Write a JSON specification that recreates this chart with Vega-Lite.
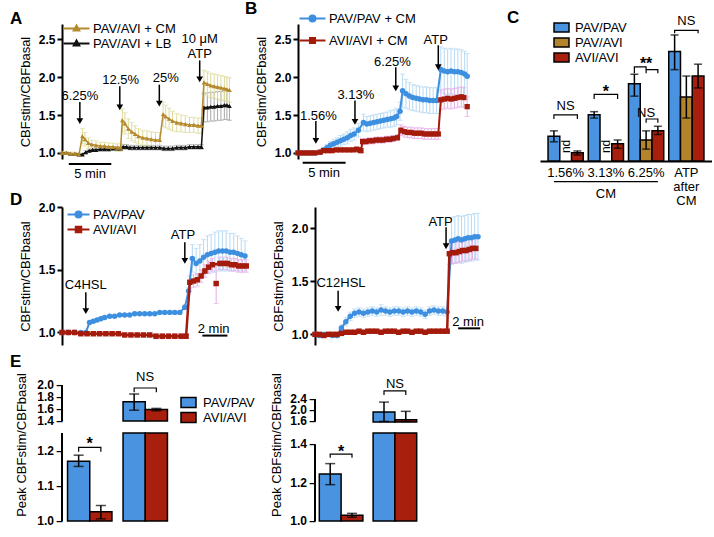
{
"$schema":"https://vega.github.io/schema/vega-lite/v6.json",
"padding":{"left":10,"top":0,"right":0,"bottom":0},
"config":{"view":{"stroke":null},"font":"Liberation Sans",
"axis":{"domainColor":"black","domainWidth":2,"tickColor":"black","tickWidth":2,"tickSize":5,"labelFontWeight":"bold","labelFontSize":12,"labelColor":"black","titleFontWeight":"normal","titleFontSize":13,"titleColor":"black","grid":false,"labelPadding":2,"titlePadding":6},
"legend":{"labelFontSize":13,"labelColor":"black"},
"point":{"opacity":1,"filled":true},
"title":{"fontSize":17,"fontWeight":"bold","anchor":"start","frame":"group","offset":0,"baseline":"bottom","color":"black"}},
"datasets":{
"Ag":[{"t":0,"m":1.0,"e":0.02},{"t":0.5,"m":1.0,"e":0.02},{"t":1,"m":0.99,"e":0.02},{"t":1.5,"m":0.99,"e":0.02},{"t":2,"m":0.98,"e":0.02},{"t":2.4,"m":1.22,"e":0.1},{"t":2.7,"m":1.18,"e":0.09},{"t":3.1,"m":1.13,"e":0.07},{"t":3.5,"m":1.11,"e":0.06},{"t":4,"m":1.1,"e":0.06},{"t":4.5,"m":1.09,"e":0.05},{"t":5,"m":1.09,"e":0.05},{"t":5.5,"m":1.08,"e":0.05},{"t":6,"m":1.08,"e":0.05},{"t":6.5,"m":1.07,"e":0.05},{"t":6.9,"m":1.07,"e":0.05},{"t":7.1,"m":1.43,"e":0.15},{"t":7.4,"m":1.39,"e":0.14},{"t":7.8,"m":1.32,"e":0.13},{"t":8.2,"m":1.28,"e":0.12},{"t":8.6,"m":1.25,"e":0.11},{"t":9,"m":1.22,"e":0.1},{"t":9.5,"m":1.2,"e":0.1},{"t":10,"m":1.19,"e":0.1},{"t":10.5,"m":1.18,"e":0.1},{"t":11,"m":1.17,"e":0.1},{"t":11.5,"m":1.17,"e":0.1},{"t":11.9,"m":1.51,"e":0.16},{"t":12.2,"m":1.48,"e":0.15},{"t":12.6,"m":1.45,"e":0.14},{"t":13,"m":1.42,"e":0.13},{"t":13.5,"m":1.4,"e":0.12},{"t":14,"m":1.39,"e":0.11},{"t":14.5,"m":1.38,"e":0.11},{"t":15,"m":1.37,"e":0.1},{"t":15.5,"m":1.37,"e":0.1},{"t":16,"m":1.36,"e":0.1},{"t":16.4,"m":1.36,"e":0.1},{"t":16.7,"m":1.93,"e":0.16},{"t":17.1,"m":1.91,"e":0.16},{"t":17.5,"m":1.89,"e":0.16},{"t":17.9,"m":1.88,"e":0.16},{"t":18.3,"m":1.87,"e":0.16},{"t":18.7,"m":1.86,"e":0.16},{"t":19.1,"m":1.85,"e":0.16},{"t":19.4,"m":1.84,"e":0.16},{"t":19.7,"m":1.83,"e":0.16}],
"Ak":[{"t":0,"m":1.0,"e":0.01},{"t":0.5,"m":1.0,"e":0.01},{"t":1,"m":0.99,"e":0.01},{"t":1.5,"m":0.99,"e":0.01},{"t":2,"m":0.98,"e":0.01},{"t":2.4,"m":0.98,"e":0.01},{"t":2.8,"m":1.01,"e":0.02},{"t":3.2,"m":1.03,"e":0.02},{"t":3.6,"m":1.04,"e":0.02},{"t":4,"m":1.04,"e":0.02},{"t":4.5,"m":1.05,"e":0.02},{"t":5,"m":1.05,"e":0.02},{"t":5.5,"m":1.05,"e":0.02},{"t":6,"m":1.06,"e":0.02},{"t":6.5,"m":1.06,"e":0.02},{"t":6.9,"m":1.06,"e":0.02},{"t":7.2,"m":1.08,"e":0.03},{"t":7.6,"m":1.08,"e":0.03},{"t":8,"m":1.07,"e":0.03},{"t":8.5,"m":1.07,"e":0.03},{"t":9,"m":1.07,"e":0.03},{"t":9.5,"m":1.07,"e":0.03},{"t":10,"m":1.07,"e":0.03},{"t":10.5,"m":1.07,"e":0.03},{"t":11,"m":1.07,"e":0.03},{"t":11.5,"m":1.07,"e":0.03},{"t":12,"m":1.06,"e":0.03},{"t":12.5,"m":1.06,"e":0.03},{"t":13,"m":1.06,"e":0.03},{"t":13.5,"m":1.07,"e":0.03},{"t":14,"m":1.07,"e":0.03},{"t":14.5,"m":1.07,"e":0.03},{"t":15,"m":1.08,"e":0.03},{"t":15.5,"m":1.08,"e":0.03},{"t":16,"m":1.08,"e":0.03},{"t":16.4,"m":1.08,"e":0.03},{"t":16.7,"m":1.6,"e":0.19},{"t":17.1,"m":1.6,"e":0.19},{"t":17.5,"m":1.61,"e":0.19},{"t":17.9,"m":1.61,"e":0.19},{"t":18.3,"m":1.62,"e":0.19},{"t":18.7,"m":1.62,"e":0.19},{"t":19.1,"m":1.63,"e":0.19},{"t":19.4,"m":1.63,"e":0.19},{"t":19.7,"m":1.62,"e":0.19}],
"Aarr":[{"t":2.1,"m":1.67,"m2":1.42},{"t":6.8,"m":1.88,"m2":1.6},{"t":11.45,"m":1.9,"m2":1.65},{"t":16.2,"m":2.22,"m2":1.97}],
"Ahd":[{"t":2.1,"m":1.42},{"t":6.8,"m":1.6},{"t":11.45,"m":1.65},{"t":16.2,"m":1.97}],
"Abar":[{"t":0.8,"t2":5.8,"m":0.855}],
"Alab":[{"t":2.1,"m":1.75,"label":"6.25%"},{"t":6.9,"m":1.96,"label":"12.5%"},{"t":12.2,"m":1.99,"label":"25%"},{"t":16.2,"m":2.5,"label":"10 μM"},{"t":16.2,"m":2.31,"label":"ATP"},{"t":3.3,"m":0.72,"label":"5 min"}],
"Bp":[{"t":0,"m":1.0,"e":0.01},{"t":0.5,"m":1.0,"e":0.01},{"t":1,"m":1.0,"e":0.01},{"t":1.5,"m":1.0,"e":0.01},{"t":2,"m":1.0,"e":0.01},{"t":2.6,"m":1.01,"e":0.02},{"t":3,"m":1.04,"e":0.03},{"t":3.4,"m":1.07,"e":0.04},{"t":3.8,"m":1.1,"e":0.05},{"t":4.2,"m":1.12,"e":0.06},{"t":4.6,"m":1.14,"e":0.06},{"t":5,"m":1.16,"e":0.07},{"t":5.4,"m":1.18,"e":0.07},{"t":5.8,"m":1.2,"e":0.08},{"t":6.2,"m":1.23,"e":0.08},{"t":6.6,"m":1.25,"e":0.08},{"t":7.1,"m":1.3,"e":0.09},{"t":7.7,"m":1.4,"e":0.11},{"t":8.1,"m":1.38,"e":0.1},{"t":8.5,"m":1.39,"e":0.1},{"t":8.9,"m":1.4,"e":0.1},{"t":9.3,"m":1.41,"e":0.1},{"t":9.7,"m":1.42,"e":0.1},{"t":10.1,"m":1.43,"e":0.1},{"t":10.5,"m":1.44,"e":0.1},{"t":10.9,"m":1.45,"e":0.11},{"t":11.3,"m":1.46,"e":0.11},{"t":11.6,"m":1.48,"e":0.11},{"t":12,"m":1.55,"e":0.12},{"t":12.3,"m":1.82,"e":0.22},{"t":12.7,"m":1.78,"e":0.19},{"t":13.1,"m":1.75,"e":0.18},{"t":13.5,"m":1.73,"e":0.17},{"t":13.9,"m":1.72,"e":0.17},{"t":14.3,"m":1.71,"e":0.17},{"t":14.7,"m":1.7,"e":0.17},{"t":15.1,"m":1.7,"e":0.17},{"t":15.5,"m":1.69,"e":0.17},{"t":15.9,"m":1.69,"e":0.17},{"t":16.3,"m":1.69,"e":0.17},{"t":16.8,"m":2.1,"e":0.3},{"t":17.2,"m":2.08,"e":0.3},{"t":17.6,"m":2.07,"e":0.3},{"t":18,"m":2.08,"e":0.3},{"t":18.4,"m":2.07,"e":0.3},{"t":18.8,"m":2.07,"e":0.3},{"t":19.2,"m":2.06,"e":0.3},{"t":19.6,"m":2.04,"e":0.3},{"t":19.9,"m":2.01,"e":0.3}],
"Ba":[{"t":0,"m":1.0,"e":0.01},{"t":0.5,"m":1.0,"e":0.01},{"t":1,"m":1.0,"e":0.01},{"t":1.5,"m":1.0,"e":0.01},{"t":2,"m":1.0,"e":0.01},{"t":2.6,"m":1.01,"e":0.01},{"t":3,"m":1.03,"e":0.01},{"t":3.5,"m":1.03,"e":0.01},{"t":4,"m":1.03,"e":0.01},{"t":4.5,"m":1.04,"e":0.01},{"t":5,"m":1.04,"e":0.01},{"t":5.5,"m":1.04,"e":0.01},{"t":6,"m":1.04,"e":0.01},{"t":6.5,"m":1.04,"e":0.01},{"t":6.9,"m":1.05,"e":0.02},{"t":7.2,"m":1.04,"e":0.03},{"t":7.4,"m":1.03,"e":0.03},{"t":7.6,"m":1.15,"e":0.04},{"t":8,"m":1.15,"e":0.04},{"t":8.4,"m":1.16,"e":0.04},{"t":8.8,"m":1.16,"e":0.04},{"t":9.2,"m":1.17,"e":0.04},{"t":9.6,"m":1.17,"e":0.04},{"t":10,"m":1.17,"e":0.04},{"t":10.4,"m":1.18,"e":0.04},{"t":10.8,"m":1.18,"e":0.04},{"t":11.2,"m":1.19,"e":0.04},{"t":11.7,"m":1.2,"e":0.04},{"t":12.1,"m":1.3,"e":0.07},{"t":12.5,"m":1.28,"e":0.07},{"t":12.9,"m":1.27,"e":0.07},{"t":13.3,"m":1.27,"e":0.07},{"t":13.7,"m":1.26,"e":0.07},{"t":14.1,"m":1.26,"e":0.07},{"t":14.5,"m":1.26,"e":0.07},{"t":14.9,"m":1.25,"e":0.07},{"t":15.3,"m":1.25,"e":0.07},{"t":15.7,"m":1.25,"e":0.07},{"t":16.1,"m":1.25,"e":0.07},{"t":16.5,"m":1.25,"e":0.07},{"t":16.8,"m":1.7,"e":0.13},{"t":17.2,"m":1.71,"e":0.13},{"t":17.6,"m":1.72,"e":0.13},{"t":18,"m":1.71,"e":0.13},{"t":18.4,"m":1.72,"e":0.13},{"t":18.8,"m":1.73,"e":0.13},{"t":19.2,"m":1.74,"e":0.13},{"t":19.5,"m":1.73,"e":0.13}],
"Bx":[{"t":19.9,"m":1.61,"e":0.13}],
"Barr":[{"t":2.1,"m":1.42,"m2":1.16},{"t":6.7,"m":1.69,"m2":1.41},{"t":11.5,"m":2.13,"m2":1.85},{"t":16.5,"m":2.42,"m2":2.13}],
"Bhd":[{"t":2.1,"m":1.16},{"t":6.7,"m":1.41},{"t":11.5,"m":1.85},{"t":16.5,"m":2.13}],
"Bbar":[{"t":0.55,"t2":5.6,"m":0.87}],
"Blab":[{"t":2.4,"m":1.49,"label":"1.56%"},{"t":6.8,"m":1.76,"label":"3.13%"},{"t":11.1,"m":2.2,"label":"6.25%"},{"t":16.2,"m":2.49,"label":"ATP"},{"t":3.06,"m":0.73,"label":"5 min"}],
"C":[{"g":"1.56%","k":"PAV/PAV","m":1.27,"lo":1.21,"hi":1.33},{"g":"1.56%","k":"AVI/AVI","m":1.09,"lo":1.065,"hi":1.11},{"g":"3.13%","k":"PAV/PAV","m":1.506,"lo":1.47,"hi":1.54},{"g":"3.13%","k":"AVI/AVI","m":1.19,"lo":1.14,"hi":1.23},{"g":"6.25%","k":"PAV/PAV","m":1.845,"lo":1.71,"hi":1.95},{"g":"6.25%","k":"PAV/AVI","m":1.23,"lo":1.13,"hi":1.33},{"g":"6.25%","k":"AVI/AVI","m":1.33,"lo":1.29,"hi":1.38},{"g":"ATP","k":"PAV/PAV","m":2.2,"lo":2.0,"hi":2.38},{"g":"ATP","k":"PAV/AVI","m":1.7,"lo":1.47,"hi":1.93},{"g":"ATP","k":"AVI/AVI","m":1.93,"lo":1.8,"hi":2.06}],
"Cbr":[{"g":"1.56%","k":"PAV/PAV","m":1.46,"b":1,"o":1},{"g":"1.56%","k":"PAV/PAV","m":1.506,"b":1,"o":2},{"g":"1.56%","k":"AVI/AVI","m":1.506,"b":1,"o":3},{"g":"1.56%","k":"AVI/AVI","m":1.46,"b":1,"o":4},
{"g":"3.13%","k":"PAV/PAV","m":1.68,"b":2,"o":1},{"g":"3.13%","k":"PAV/PAV","m":1.73,"b":2,"o":2},{"g":"3.13%","k":"AVI/AVI","m":1.73,"b":2,"o":3},{"g":"3.13%","k":"AVI/AVI","m":1.68,"b":2,"o":4},
{"g":"6.25%","k":"PAV/PAV","m":1.96,"b":3,"o":1},{"g":"6.25%","k":"PAV/PAV","m":2.03,"b":3,"o":2},{"g":"6.25%","k":"PAV/AVI","m":2.03,"b":3,"o":3},{"g":"6.25%","k":"PAV/AVI","m":2.0,"b":3,"o":4},
{"g":"6.25%","k":"PAV/AVI","m":1.96,"b":4,"o":1},{"g":"6.25%","k":"PAV/AVI","m":2.0,"b":4,"o":2},{"g":"6.25%","k":"AVI/AVI","m":2.0,"b":4,"o":3},{"g":"6.25%","k":"AVI/AVI","m":1.96,"b":4,"o":4},
{"g":"6.25%","k":"PAV/AVI","m":1.42,"b":5,"o":1},{"g":"6.25%","k":"PAV/AVI","m":1.46,"b":5,"o":2},{"g":"6.25%","k":"AVI/AVI","m":1.46,"b":5,"o":3},{"g":"6.25%","k":"AVI/AVI","m":1.42,"b":5,"o":4},
{"g":"ATP","k":"PAV/PAV","m":2.4,"b":6,"o":1},{"g":"ATP","k":"PAV/PAV","m":2.43,"b":6,"o":2},{"g":"ATP","k":"AVI/AVI","m":2.43,"b":6,"o":3},{"g":"ATP","k":"AVI/AVI","m":2.4,"b":6,"o":4},
{"g":"1.56%","k":"PAV/PAV","m":0.774,"b":7,"o":1},{"g":"6.25%","k":"AVI/AVI","m":0.774,"b":7,"o":2}],
"Clab":[{"g":"1.56%","k":"PAV/AVI","m":1.6,"label":"NS"},{"g":"6.25%","k":"PAV/AVI","m":1.53,"label":"NS"},{"g":"ATP","k":"PAV/AVI","m":2.53,"label":"NS"},{"g":"3.13%","k":"PAV/AVI","m":0.643,"label":"CM"}],
"Cstar":[{"g":"3.13%","k":"PAV/AVI","m":1.76,"label":"*"},{"g":"6.25%","k":"PAV/AVI","m":2.06,"label":"**"}],
"Cnd":[{"g":"1.56%","k":"PAV/AVI","m":1.16,"label":"nd"},{"g":"3.13%","k":"PAV/AVI","m":1.16,"label":"nd"}],
"D1p":[{"t":0,"m":1.0,"e":0.01},{"t":0.5,"m":1.0,"e":0.01},{"t":1,"m":1.0,"e":0.01},{"t":1.5,"m":1.0,"e":0.01},{"t":1.9,"m":1.0,"e":0.01},{"t":2.2,"m":1.08,"e":0.01},{"t":2.5,"m":1.09,"e":0.01},{"t":2.8,"m":1.1,"e":0.01},{"t":3.1,"m":1.11,"e":0.01},{"t":3.4,"m":1.12,"e":0.01},{"t":3.8,"m":1.13,"e":0.01},{"t":4.2,"m":1.13,"e":0.01},{"t":4.6,"m":1.14,"e":0.01},{"t":5,"m":1.14,"e":0.01},{"t":5.4,"m":1.14,"e":0.01},{"t":5.8,"m":1.15,"e":0.01},{"t":6.2,"m":1.15,"e":0.01},{"t":6.6,"m":1.15,"e":0.01},{"t":7,"m":1.15,"e":0.01},{"t":7.4,"m":1.15,"e":0.01},{"t":7.8,"m":1.16,"e":0.01},{"t":8.2,"m":1.16,"e":0.01},{"t":8.6,"m":1.16,"e":0.01},{"t":9,"m":1.16,"e":0.01},{"t":9.4,"m":1.16,"e":0.01},{"t":9.8,"m":1.2,"e":0.02},{"t":10.1,"m":1.33,"e":0.03},{"t":10.4,"m":1.59,"e":0.11},{"t":10.7,"m":1.55,"e":0.12},{"t":11,"m":1.57,"e":0.13},{"t":11.3,"m":1.6,"e":0.14},{"t":11.6,"m":1.62,"e":0.15},{"t":11.9,"m":1.63,"e":0.15},{"t":12.2,"m":1.64,"e":0.16},{"t":12.5,"m":1.65,"e":0.16},{"t":12.8,"m":1.65,"e":0.16},{"t":13.1,"m":1.65,"e":0.16},{"t":13.4,"m":1.64,"e":0.15},{"t":13.7,"m":1.64,"e":0.15},{"t":14,"m":1.63,"e":0.14},{"t":14.3,"m":1.62,"e":0.13},{"t":14.6,"m":1.61,"e":0.12}],
"D1a":[{"t":0,"m":1.0,"e":0.01},{"t":0.5,"m":1.0,"e":0.01},{"t":1,"m":1.0,"e":0.01},{"t":1.5,"m":0.99,"e":0.01},{"t":2,"m":0.99,"e":0.01},{"t":2.5,"m":0.99,"e":0.01},{"t":3,"m":0.99,"e":0.01},{"t":3.5,"m":0.99,"e":0.01},{"t":4,"m":0.99,"e":0.01},{"t":4.5,"m":0.99,"e":0.01},{"t":5,"m":0.98,"e":0.01},{"t":5.5,"m":0.98,"e":0.01},{"t":6,"m":0.98,"e":0.01},{"t":6.5,"m":0.98,"e":0.01},{"t":7,"m":0.98,"e":0.01},{"t":7.5,"m":0.97,"e":0.02},{"t":8,"m":0.97,"e":0.02},{"t":8.5,"m":0.97,"e":0.02},{"t":9,"m":0.97,"e":0.02},{"t":9.5,"m":0.97,"e":0.02},{"t":9.9,"m":0.97,"e":0.02},{"t":10.2,"m":1.4,"e":0.05},{"t":10.5,"m":1.41,"e":0.05},{"t":10.8,"m":1.42,"e":0.05},{"t":11.1,"m":1.45,"e":0.05},{"t":11.4,"m":1.49,"e":0.05},{"t":11.7,"m":1.52,"e":0.05},{"t":12,"m":1.54,"e":0.05},{"t":12.6,"m":1.55,"e":0.05},{"t":12.9,"m":1.55,"e":0.05},{"t":13.2,"m":1.55,"e":0.05},{"t":13.5,"m":1.54,"e":0.05},{"t":13.8,"m":1.54,"e":0.05},{"t":14.1,"m":1.53,"e":0.05},{"t":14.4,"m":1.53,"e":0.05},{"t":14.7,"m":1.53,"e":0.05}],
"D1x":[{"t":12.3,"m":1.39,"e":0.16}],
"D1arr":[{"t":1.9,"m":1.32,"m2":1.17},{"t":9.8,"m":1.72,"m2":1.57}],
"D1hd":[{"t":1.9,"m":1.17},{"t":9.8,"m":1.57}],
"D1bar":[{"t":11.2,"t2":13.2,"m":0.975}],
"D1lab":[{"t":1.9,"m":1.38,"label":"C4HSL"},{"t":9.65,"m":1.78,"label":"ATP"},{"t":12.1,"m":1.03,"label":"2 min"}],
"D2p":[{"t":0,"m":1.0,"e":0.02},{"t":0.4,"m":0.99,"e":0.02},{"t":0.8,"m":1.0,"e":0.02},{"t":1.2,"m":1.0,"e":0.02},{"t":1.6,"m":0.99,"e":0.02},{"t":2,"m":0.99,"e":0.02},{"t":2.4,"m":1.06,"e":0.03},{"t":2.8,"m":1.12,"e":0.04},{"t":3.2,"m":1.17,"e":0.04},{"t":3.6,"m":1.2,"e":0.04},{"t":4,"m":1.21,"e":0.04},{"t":4.4,"m":1.2,"e":0.04},{"t":4.8,"m":1.21,"e":0.04},{"t":5.2,"m":1.22,"e":0.04},{"t":5.6,"m":1.21,"e":0.04},{"t":6,"m":1.23,"e":0.05},{"t":6.4,"m":1.22,"e":0.04},{"t":6.8,"m":1.21,"e":0.04},{"t":7.2,"m":1.22,"e":0.04},{"t":7.6,"m":1.22,"e":0.04},{"t":8,"m":1.21,"e":0.04},{"t":8.4,"m":1.22,"e":0.04},{"t":8.8,"m":1.21,"e":0.04},{"t":9.2,"m":1.22,"e":0.04},{"t":9.6,"m":1.21,"e":0.04},{"t":10,"m":1.19,"e":0.04},{"t":10.4,"m":1.22,"e":0.04},{"t":10.8,"m":1.23,"e":0.04},{"t":11.2,"m":1.22,"e":0.04},{"t":11.6,"m":1.22,"e":0.04},{"t":12,"m":1.21,"e":0.04},{"t":12.4,"m":1.88,"e":0.22},{"t":12.7,"m":1.89,"e":0.22},{"t":13,"m":1.9,"e":0.22},{"t":13.3,"m":1.89,"e":0.22},{"t":13.6,"m":1.9,"e":0.22},{"t":13.9,"m":1.91,"e":0.22},{"t":14.2,"m":1.91,"e":0.22},{"t":14.5,"m":1.92,"e":0.22},{"t":14.8,"m":1.92,"e":0.22}],
"D2a":[{"t":0,"m":1.0,"e":0.01},{"t":0.4,"m":1.0,"e":0.01},{"t":0.8,"m":0.99,"e":0.01},{"t":1.2,"m":1.0,"e":0.01},{"t":1.6,"m":1.0,"e":0.01},{"t":2,"m":1.0,"e":0.01},{"t":2.4,"m":1.01,"e":0.01},{"t":2.8,"m":1.02,"e":0.01},{"t":3.2,"m":1.02,"e":0.01},{"t":3.6,"m":1.02,"e":0.01},{"t":4,"m":1.03,"e":0.01},{"t":4.4,"m":1.02,"e":0.01},{"t":4.8,"m":1.03,"e":0.01},{"t":5.2,"m":1.03,"e":0.01},{"t":5.6,"m":1.03,"e":0.01},{"t":6,"m":1.02,"e":0.01},{"t":6.4,"m":1.03,"e":0.01},{"t":6.8,"m":1.03,"e":0.01},{"t":7.2,"m":1.03,"e":0.01},{"t":7.6,"m":1.02,"e":0.01},{"t":8,"m":1.03,"e":0.01},{"t":8.4,"m":1.03,"e":0.01},{"t":8.8,"m":1.02,"e":0.01},{"t":9.2,"m":1.03,"e":0.01},{"t":9.6,"m":1.03,"e":0.01},{"t":10,"m":1.02,"e":0.01},{"t":10.4,"m":1.03,"e":0.01},{"t":10.8,"m":1.03,"e":0.01},{"t":11.2,"m":1.03,"e":0.01},{"t":11.6,"m":1.03,"e":0.01},{"t":12,"m":1.03,"e":0.01},{"t":12.2,"m":1.76,"e":0.1},{"t":12.5,"m":1.77,"e":0.1},{"t":12.8,"m":1.77,"e":0.1},{"t":13.1,"m":1.78,"e":0.1},{"t":13.4,"m":1.79,"e":0.1},{"t":13.7,"m":1.79,"e":0.1},{"t":14,"m":1.8,"e":0.1},{"t":14.3,"m":1.81,"e":0.1},{"t":14.6,"m":1.81,"e":0.1}],
"D2arr":[{"t":2.1,"m":1.41,"m2":1.24},{"t":11.9,"m":2.01,"m2":1.83}],
"D2hd":[{"t":2.1,"m":1.24},{"t":11.9,"m":1.83}],
"D2bar":[{"t":13.0,"t2":15.0,"m":1.057}],
"D2lab":[{"t":2.36,"m":1.48,"label":"C12HSL"},{"t":11.4,"m":2.06,"label":"ATP"},{"t":13.9,"m":1.12,"label":"2 min"}],
"E1":[{"g":"C4HSL","k":"PAV/PAV","m":1.17,"lo":1.155,"hi":1.187},{"g":"C4HSL","k":"AVI/AVI","m":1.026,"lo":1.006,"hi":1.044},{"g":"ATP","k":"PAV/PAV","m":1.72,"lo":1.58,"hi":1.85},{"g":"ATP","k":"AVI/AVI","m":1.59,"lo":1.57,"hi":1.61}],
"E1h":[{"g":"C4HSL","k":"PAV/PAV","m":1.17,"lo":1.155,"hi":1.187},{"g":"C4HSL","k":"AVI/AVI","m":1.026,"lo":1.006,"hi":1.044}],
"E1a":[{"g":"ATP","k":"PAV/PAV","m":1.72,"lo":1.58,"hi":1.85},{"g":"ATP","k":"AVI/AVI","m":1.59,"lo":1.57,"hi":1.61}],
"E1bu":[{"g":"ATP","k":"PAV/PAV","m":1.88,"b":1,"o":1},{"g":"ATP","k":"PAV/PAV","m":1.95,"b":1,"o":2},{"g":"ATP","k":"AVI/AVI","m":1.95,"b":1,"o":3},{"g":"ATP","k":"AVI/AVI","m":1.88,"b":1,"o":4}],
"E1bl":[{"g":"C4HSL","k":"PAV/PAV","m":1.197,"b":1,"o":1},{"g":"C4HSL","k":"PAV/PAV","m":1.209,"b":1,"o":2},{"g":"C4HSL","k":"AVI/AVI","m":1.209,"b":1,"o":3},{"g":"C4HSL","k":"AVI/AVI","m":1.197,"b":1,"o":4}],
"E1tu":[{"g":"ATP","k":"PAV/PAV","m":2.13,"label":"NS"}],
"E1tl":[{"g":"C4HSL","k":"PAV/PAV","m":1.219,"label":"*"}],
"E1uax":[{"g":"C4HSL","m":1.4,"label":"1.4"},{"g":"C4HSL","m":1.6,"label":"1.6"},{"g":"C4HSL","m":1.8,"label":"1.8"},{"g":"C4HSL","m":2.0,"label":"2.0"}],
"E1uln":[{"g":"C4HSL","m":1.4,"m2":2.0}],
"E1lax":[{"g":"C4HSL","m":1.0,"label":"1.0"},{"g":"C4HSL","m":1.1,"label":"1.1"},{"g":"C4HSL","m":1.2,"label":"1.2"}],
"E1lln":[{"g":"C4HSL","m":1.0,"m2":1.25}],
"E1ttl":[{"g":"C4HSL","m":1.216,"label":"Peak CBFstim/CBFbasal"}],
"E2":[{"g":"C12HSL","k":"PAV/PAV","m":1.246,"lo":1.19,"hi":1.3},{"g":"C12HSL","k":"AVI/AVI","m":1.03,"lo":1.02,"hi":1.04},{"g":"ATP","k":"PAV/PAV","m":1.94,"lo":1.6,"hi":2.29},{"g":"ATP","k":"AVI/AVI","m":1.66,"lo":1.6,"hi":1.96}],
"E2h":[{"g":"C12HSL","k":"PAV/PAV","m":1.246,"lo":1.19,"hi":1.3},{"g":"C12HSL","k":"AVI/AVI","m":1.03,"lo":1.02,"hi":1.04}],
"E2a":[{"g":"ATP","k":"PAV/PAV","m":1.94,"lo":1.6,"hi":2.29},{"g":"ATP","k":"AVI/AVI","m":1.66,"lo":1.6,"hi":1.96}],
"E2bu":[{"g":"ATP","k":"PAV/PAV","m":2.54,"b":1,"o":1},{"g":"ATP","k":"PAV/PAV","m":2.69,"b":1,"o":2},{"g":"ATP","k":"AVI/AVI","m":2.69,"b":1,"o":3},{"g":"ATP","k":"AVI/AVI","m":2.54,"b":1,"o":4}],
"E2bl":[{"g":"C12HSL","k":"PAV/PAV","m":1.33,"b":1,"o":1},{"g":"C12HSL","k":"PAV/PAV","m":1.35,"b":1,"o":2},{"g":"C12HSL","k":"AVI/AVI","m":1.35,"b":1,"o":3},{"g":"C12HSL","k":"AVI/AVI","m":1.33,"b":1,"o":4}],
"E2tu":[{"g":"ATP","k":"PAV/PAV","m":2.94,"label":"NS"}],
"E2tl":[{"g":"C12HSL","k":"PAV/PAV","m":1.363,"label":"*"}],
"E2uax":[{"g":"C12HSL","m":1.6,"label":"1.6"},{"g":"C12HSL","m":2.0,"label":"2.0"},{"g":"C12HSL","m":2.4,"label":"2.4"}],
"E2uln":[{"g":"C12HSL","m":1.6,"m2":2.4}],
"E2lax":[{"g":"C12HSL","m":1.0,"label":"1.0"},{"g":"C12HSL","m":1.2,"label":"1.2"},{"g":"C12HSL","m":1.4,"label":"1.4"}],
"E2lln":[{"g":"C12HSL","m":1.0,"m2":1.4}],
"E2ttl":[{"g":"C12HSL","m":1.397,"label":"Peak CBFstim/CBFbasal"}]
},
"spacing":8,
"resolve":{"scale":{"fill":"independent","stroke":"independent","shape":"independent","color":"independent","xOffset":"independent"},"legend":{"fill":"independent","stroke":"independent","shape":"independent","color":"independent"}},
"vconcat":[
{"spacing":-28,
"resolve":{"scale":{"fill":"independent","stroke":"independent","shape":"independent","color":"independent","xOffset":"independent"},"legend":{"fill":"independent","stroke":"independent","shape":"independent","color":"independent"}},
"vconcat":[
{"hconcat":[
{"width":170,"height":135,"title":{"text":"A","dx":-52,"offset":-6},
"encoding":{"x":{"field":"t","type":"quantitative","scale":{"domain":[0,20]},"axis":null},
"y":{"field":"m","type":"quantitative","scale":{"domain":[0.92,2.7]},"axis":{"title":"CBFstim/CBFbasal","values":[1,1.5,2,2.5],"format":".1f"}}},
"layer":[
{"data":{"name":"Ak"},"mark":{"type":"errorbar","color":"#a8a8a8","ticks":true},"encoding":{"yError":{"field":"e"}}},
{"data":{"name":"Ag"},"mark":{"type":"errorbar","color":"#dedb9a","ticks":true},"encoding":{"yError":{"field":"e"}}},
{"data":{"name":"Ak"},"mark":{"type":"line","color":"#111111","strokeWidth":1.5}},
{"data":{"name":"Ak"},"mark":{"type":"point","shape":"triangle-up","color":"#111111","size":22}},
{"data":{"name":"Ag"},"mark":{"type":"line","color":"#b58a2c","strokeWidth":1.5}},
{"data":{"name":"Ag"},"mark":{"type":"point","shape":"triangle-up","color":"#b58a2c","size":22}},
{"data":{"name":"Aarr"},"mark":{"type":"rule","color":"black","strokeWidth":1.5},"encoding":{"y2":{"field":"m2"}}},
{"data":{"name":"Ahd"},"mark":{"type":"point","shape":"triangle-down","color":"black","size":45}},
{"data":{"name":"Abar"},"mark":{"type":"rule","color":"black","strokeWidth":2},"encoding":{"x2":{"field":"t2"}}},
{"data":{"name":"Alab"},"mark":{"type":"text","fontSize":13,"color":"black"},"encoding":{"text":{"field":"label"}}},
{"data":{"name":"Ag"},"transform":[{"filter":"false"}],"mark":{"type":"point","strokeWidth":2},
"encoding":{
"fill":{"field":"s","type":"nominal","scale":{"domain":["PAV/AVI + CM","PAV/AVI + LB"],"range":["#b58a2c","#111111"]},"legend":{"title":null,"orient":"none","legendX":8,"legendY":-2,"symbolSize":100,"symbolStrokeWidth":2,"rowPadding":0,"labelOffset":10,"labelFontSize":13}},
"stroke":{"field":"s","type":"nominal","scale":{"domain":["PAV/AVI + CM","PAV/AVI + LB"],"range":["#b58a2c","#111111"]},"legend":{"title":null,"orient":"none","legendX":8,"legendY":-2,"symbolSize":100,"symbolStrokeWidth":2,"rowPadding":0,"labelOffset":10,"labelFontSize":13}},
"shape":{"field":"s","type":"nominal","scale":{"domain":["PAV/AVI + CM","PAV/AVI + LB"],"range":["M-2.6,0H2.6M0,-0.6L0.55,0.4H-0.55Z","M-2.6,0H2.6M0,-0.6L0.55,0.4H-0.55Z"]},"legend":{"title":null,"orient":"none","legendX":8,"legendY":-2,"symbolSize":100,"symbolStrokeWidth":2,"rowPadding":0,"labelOffset":10,"labelFontSize":13}}}}
]},
{"width":176,"height":135,"title":{"text":"B","dx":-53,"offset":-6},
"encoding":{"x":{"field":"t","type":"quantitative","scale":{"domain":[0,20.7]},"axis":null},
"y":{"field":"m","type":"quantitative","scale":{"domain":[0.92,2.7]},"axis":{"title":"CBFstim/CBFbasal","values":[1,1.5,2,2.5],"format":".1f"}}},
"layer":[
{"data":{"name":"Bp"},"mark":{"type":"errorbar","color":"#b5d9f3","ticks":true},"encoding":{"yError":{"field":"e"}}},
{"data":{"name":"Ba"},"mark":{"type":"errorbar","color":"#e4ade6","ticks":true},"encoding":{"yError":{"field":"e"}}},
{"data":{"name":"Bx"},"mark":{"type":"errorbar","color":"#e4ade6","ticks":true},"encoding":{"yError":{"field":"e"}}},
{"data":{"name":"Bp"},"mark":{"type":"line","color":"#3d8fe0","strokeWidth":2}},
{"data":{"name":"Bp"},"mark":{"type":"point","shape":"circle","color":"#3d8fe0","size":30}},
{"data":{"name":"Ba"},"mark":{"type":"line","color":"#a41b0c","strokeWidth":2}},
{"data":{"name":"Ba"},"mark":{"type":"point","shape":"square","color":"#a41b0c","size":28}},
{"data":{"name":"Bx"},"mark":{"type":"point","shape":"square","color":"#a41b0c","size":28}},
{"data":{"name":"Barr"},"mark":{"type":"rule","color":"black","strokeWidth":1.5},"encoding":{"y2":{"field":"m2"}}},
{"data":{"name":"Bhd"},"mark":{"type":"point","shape":"triangle-down","color":"black","size":45}},
{"data":{"name":"Bbar"},"mark":{"type":"rule","color":"black","strokeWidth":2},"encoding":{"x2":{"field":"t2"}}},
{"data":{"name":"Blab"},"mark":{"type":"text","fontSize":13,"color":"black"},"encoding":{"text":{"field":"label"}}},
{"data":{"name":"Bp"},"transform":[{"filter":"false"}],"mark":{"type":"point","strokeWidth":2},
"encoding":{
"fill":{"field":"s","type":"nominal","scale":{"domain":["PAV/PAV + CM","AVI/AVI + CM"],"range":["#3d8fe0","#a41b0c"]},"legend":{"title":null,"orient":"none","legendX":8,"legendY":-12,"symbolSize":100,"symbolStrokeWidth":2,"rowPadding":8,"labelOffset":10,"labelFontSize":13}},
"stroke":{"field":"s","type":"nominal","scale":{"domain":["PAV/PAV + CM","AVI/AVI + CM"],"range":["#3d8fe0","#a41b0c"]},"legend":{"title":null,"orient":"none","legendX":8,"legendY":-12,"symbolSize":100,"symbolStrokeWidth":2,"rowPadding":8,"labelOffset":10,"labelFontSize":13}},
"shape":{"field":"s","type":"nominal","scale":{"domain":["PAV/PAV + CM","AVI/AVI + CM"],"range":["M-2.6,0H2.6M-0.6,0A0.6,0.6,0,1,0,0.6,0A0.6,0.6,0,1,0,-0.6,0Z","M-2.6,0H2.6M-0.5,-0.5H0.5V0.5H-0.5Z"]},"legend":{"title":null,"orient":"none","legendX":8,"legendY":-12,"symbolSize":100,"symbolStrokeWidth":2,"rowPadding":8,"labelOffset":10,"labelFontSize":13}}}}
]},
{"width":172,"height":137,"title":{"text":"C","dx":-33,"offset":-12},"data":{"name":"C"},
"encoding":{"x":{"field":"g","type":"nominal","sort":null,"scale":{"domain":["1.56%","3.13%","6.25%","ATP"],"paddingInner":0.125,"paddingOuter":0.2},"axis":{"title":null,"labelAngle":0,"ticks":false,"labelFontWeight":"normal","labelFontSize":13,"labelPadding":5,"labelLineHeight":14,"labelExpr":"datum.value == 'ATP' ? ['ATP','after','CM'] : datum.value"}},
"y":{"field":"m","type":"quantitative","scale":{"domain":[1,2.5]},"axis":{"title":"Peak CBFstim/CBFbasal","values":[1,1.5,2,2.5],"format":".1f"}}},
"layer":[
{"mark":{"type":"bar","stroke":"black","strokeWidth":1.5},"encoding":{"xOffset":{"field":"k","type":"nominal","scale":{"domain":["PAV/PAV","PAV/AVI","AVI/AVI"],"paddingInner":0,"paddingOuter":0}},"y2":{"datum":1},
"color":{"field":"k","type":"nominal","scale":{"domain":["PAV/PAV","PAV/AVI","AVI/AVI"],"range":["#4a93e0","#b3842c","#a81f0d"]},"legend":{"title":null,"orient":"none","legendX":15,"legendY":-3,"symbolType":"M-1.5,-0.9H1.5V0.9H-1.5Z","symbolSize":100,"symbolStrokeColor":"black","symbolStrokeWidth":1.5,"rowPadding":0,"labelFontSize":13,"labelOffset":7}}}},
{"mark":{"type":"rule","color":"black","strokeWidth":1.5},"encoding":{"xOffset":{"field":"k","type":"nominal","scale":{"domain":["PAV/PAV","PAV/AVI","AVI/AVI"],"paddingInner":0,"paddingOuter":0}},"y":{"field":"lo","type":"quantitative","axis":null},"y2":{"field":"hi"}}},
{"mark":{"type":"tick","color":"black","thickness":1.5,"size":8},"encoding":{"xOffset":{"field":"k","type":"nominal","scale":{"domain":["PAV/PAV","PAV/AVI","AVI/AVI"],"paddingInner":0,"paddingOuter":0}},"y":{"field":"lo","type":"quantitative","axis":null}}},
{"mark":{"type":"tick","color":"black","thickness":1.5,"size":8},"encoding":{"xOffset":{"field":"k","type":"nominal","scale":{"domain":["PAV/PAV","PAV/AVI","AVI/AVI"],"paddingInner":0,"paddingOuter":0}},"y":{"field":"hi","type":"quantitative","axis":null}}},
{"data":{"name":"Cbr"},"mark":{"type":"line","color":"black","strokeWidth":1.2},"encoding":{"xOffset":{"field":"k","type":"nominal","scale":{"domain":["PAV/PAV","PAV/AVI","AVI/AVI"],"paddingInner":0,"paddingOuter":0}},"detail":{"field":"b"},"order":{"field":"o"}}},
{"data":{"name":"Clab"},"mark":{"type":"text","fontSize":13,"color":"black"},"encoding":{"xOffset":{"field":"k","type":"nominal","scale":{"domain":["PAV/PAV","PAV/AVI","AVI/AVI"],"paddingInner":0,"paddingOuter":0}},"text":{"field":"label"}}},
{"data":{"name":"Cstar"},"mark":{"type":"text","fontSize":16,"fontWeight":"bold","color":"black"},"encoding":{"xOffset":{"field":"k","type":"nominal","scale":{"domain":["PAV/PAV","PAV/AVI","AVI/AVI"],"paddingInner":0,"paddingOuter":0}},"text":{"field":"label"}}},
{"data":{"name":"Cnd"},"mark":{"type":"text","fontSize":12,"angle":270,"color":"black"},"encoding":{"xOffset":{"field":"k","type":"nominal","scale":{"domain":["PAV/PAV","PAV/AVI","AVI/AVI"],"paddingInner":0,"paddingOuter":0}},"text":{"field":"label"}}}
]}
],"spacing":66,"bounds":"flush",
"resolve":{"scale":{"fill":"independent","stroke":"independent","shape":"independent","color":"independent","xOffset":"independent"},"legend":{"fill":"independent","stroke":"independent","shape":"independent","color":"independent"}}},
{"hconcat":[
{"width":188,"height":138,"title":{"text":"D","dx":-52,"offset":-8},
"encoding":{"x":{"field":"t","type":"quantitative","scale":{"domain":[0,15]},"axis":null},
"y":{"field":"m","type":"quantitative","scale":{"domain":[0.9,2.0]},"axis":{"title":"CBFstim/CBFbasal","values":[1,1.5,2],"format":".1f"}}},
"layer":[
{"data":{"name":"D1p"},"mark":{"type":"errorbar","color":"#b5d9f3","ticks":true},"encoding":{"yError":{"field":"e"}}},
{"data":{"name":"D1a"},"mark":{"type":"errorbar","color":"#e4ade6","ticks":true},"encoding":{"yError":{"field":"e"}}},
{"data":{"name":"D1x"},"mark":{"type":"errorbar","color":"#e4ade6","ticks":true},"encoding":{"yError":{"field":"e"}}},
{"data":{"name":"D1p"},"mark":{"type":"line","color":"#3d8fe0","strokeWidth":2}},
{"data":{"name":"D1p"},"mark":{"type":"point","shape":"circle","color":"#3d8fe0","size":30}},
{"data":{"name":"D1a"},"mark":{"type":"line","color":"#a41b0c","strokeWidth":2.5}},
{"data":{"name":"D1a"},"mark":{"type":"point","shape":"square","color":"#a41b0c","size":30}},
{"data":{"name":"D1x"},"mark":{"type":"point","shape":"square","color":"#a41b0c","size":30}},
{"data":{"name":"D1arr"},"mark":{"type":"rule","color":"black","strokeWidth":1.5},"encoding":{"y2":{"field":"m2"}}},
{"data":{"name":"D1hd"},"mark":{"type":"point","shape":"triangle-down","color":"black","size":45}},
{"data":{"name":"D1bar"},"mark":{"type":"rule","color":"black","strokeWidth":2},"encoding":{"x2":{"field":"t2"}}},
{"data":{"name":"D1lab"},"mark":{"type":"text","fontSize":13,"color":"black"},"encoding":{"text":{"field":"label"}}},
{"data":{"name":"D1p"},"transform":[{"filter":"false"}],"mark":{"type":"point","strokeWidth":2},
"encoding":{
"fill":{"field":"s","type":"nominal","scale":{"domain":["PAV/PAV","AVI/AVI"],"range":["#3d8fe0","#a41b0c"]},"legend":{"title":null,"orient":"none","legendX":10,"legendY":1,"symbolSize":100,"symbolStrokeWidth":2,"rowPadding":0,"labelOffset":8,"labelFontSize":13}},
"stroke":{"field":"s","type":"nominal","scale":{"domain":["PAV/PAV","AVI/AVI"],"range":["#3d8fe0","#a41b0c"]},"legend":{"title":null,"orient":"none","legendX":10,"legendY":1,"symbolSize":100,"symbolStrokeWidth":2,"rowPadding":0,"labelOffset":8,"labelFontSize":13}},
"shape":{"field":"s","type":"nominal","scale":{"domain":["PAV/PAV","AVI/AVI"],"range":["M-2.2,0H2.2M-0.6,0A0.6,0.6,0,1,0,0.6,0A0.6,0.6,0,1,0,-0.6,0Z","M-2.2,0H2.2M-0.55,-0.55H0.55V0.55H-0.55Z"]},"legend":{"title":null,"orient":"none","legendX":10,"legendY":1,"symbolSize":100,"symbolStrokeWidth":2,"rowPadding":0,"labelOffset":8,"labelFontSize":13}}}}
]},
{"width":163,"height":138,
"encoding":{"x":{"field":"t","type":"quantitative","scale":{"domain":[0,14.8]},"axis":null},
"y":{"field":"m","type":"quantitative","scale":{"domain":[0.9,2.2]},"axis":{"title":"CBFstim/CBFbasal","values":[1,1.5,2],"format":".1f"}}},
"layer":[
{"data":{"name":"D2p"},"mark":{"type":"errorbar","color":"#b5d9f3","ticks":true},"encoding":{"yError":{"field":"e"}}},
{"data":{"name":"D2a"},"mark":{"type":"errorbar","color":"#e4ade6","ticks":true},"encoding":{"yError":{"field":"e"}}},
{"data":{"name":"D2p"},"mark":{"type":"line","color":"#3d8fe0","strokeWidth":2}},
{"data":{"name":"D2p"},"mark":{"type":"point","shape":"circle","color":"#3d8fe0","size":30}},
{"data":{"name":"D2a"},"mark":{"type":"line","color":"#a41b0c","strokeWidth":2.5}},
{"data":{"name":"D2a"},"mark":{"type":"point","shape":"square","color":"#a41b0c","size":30}},
{"data":{"name":"D2arr"},"mark":{"type":"rule","color":"black","strokeWidth":1.5},"encoding":{"y2":{"field":"m2"}}},
{"data":{"name":"D2hd"},"mark":{"type":"point","shape":"triangle-down","color":"black","size":45}},
{"data":{"name":"D2bar"},"mark":{"type":"rule","color":"black","strokeWidth":2},"encoding":{"x2":{"field":"t2"}}},
{"data":{"name":"D2lab"},"mark":{"type":"text","fontSize":13,"color":"black"},"encoding":{"text":{"field":"label"}}}
]}
],"spacing":65,"bounds":"flush",
"resolve":{"scale":{"fill":"independent","stroke":"independent","shape":"independent","color":"independent"},"legend":{"fill":"independent","stroke":"independent","shape":"independent","color":"independent"}}}
]},
{"spacing":-55,
"resolve":{"scale":{"color":"independent","xOffset":"independent","y":"independent","x":"independent"},"legend":{"color":"independent"}},
"vconcat":[
{"hconcat":[
{"width":111,"height":36,"title":{"text":"E","dx":-52,"offset":0},
"encoding":{"x":{"field":"g","type":"nominal","sort":null,"scale":{"domain":["C4HSL","ATP"],"paddingInner":0.2,"paddingOuter":0.1},"axis":null},
"y":{"field":"m","type":"quantitative","scale":{"domain":[1.4,2.0]},"axis":null}},
"layer":[
{"data":{"name":"E1a"},"mark":{"type":"bar","stroke":"black","strokeWidth":1.5},"encoding":{"xOffset":{"field":"k","type":"nominal","scale":{"domain":["PAV/PAV","AVI/AVI"],"paddingInner":0,"paddingOuter":0}},"y2":{"datum":1.4},
"color":{"field":"k","type":"nominal","scale":{"domain":["PAV/PAV","AVI/AVI"],"range":["#4a93e0","#a81f0d"]},"legend":{"title":null,"orient":"none","legendX":120,"legendY":11,"symbolType":"M-1.5,-1H1.5V1H-1.5Z","symbolSize":100,"symbolStrokeColor":"black","symbolStrokeWidth":1.5,"rowPadding":-5,"labelFontSize":13,"labelOffset":8}}}},
{"data":{"name":"E1a"},"mark":{"type":"rule","color":"black","strokeWidth":1.5},"encoding":{"xOffset":{"field":"k","type":"nominal","scale":{"domain":["PAV/PAV","AVI/AVI"],"paddingInner":0,"paddingOuter":0}},"y":{"field":"lo","type":"quantitative","axis":null},"y2":{"field":"hi"}}},
{"data":{"name":"E1a"},"mark":{"type":"tick","color":"black","thickness":1.5,"size":10},"encoding":{"xOffset":{"field":"k","type":"nominal","scale":{"domain":["PAV/PAV","AVI/AVI"],"paddingInner":0,"paddingOuter":0}},"y":{"field":"lo","type":"quantitative","axis":null}}},
{"data":{"name":"E1a"},"mark":{"type":"tick","color":"black","thickness":1.5,"size":10},"encoding":{"xOffset":{"field":"k","type":"nominal","scale":{"domain":["PAV/PAV","AVI/AVI"],"paddingInner":0,"paddingOuter":0}},"y":{"field":"hi","type":"quantitative","axis":null}}},
{"data":{"name":"E1bu"},"mark":{"type":"line","color":"black","strokeWidth":1.2},"encoding":{"xOffset":{"field":"k","type":"nominal","scale":{"domain":["PAV/PAV","AVI/AVI"],"paddingInner":0,"paddingOuter":0}},"detail":{"field":"b"},"order":{"field":"o"}}},
{"data":{"name":"E1tu"},"mark":{"type":"text","fontSize":13,"color":"black","dx":11},"encoding":{"xOffset":{"field":"k","type":"nominal","scale":{"domain":["PAV/PAV","AVI/AVI"],"paddingInner":0,"paddingOuter":0}},"text":{"field":"label"}}},
{"data":{"name":"E1uln"},"mark":{"type":"rule","color":"black","strokeWidth":2},"encoding":{"x":{"field":"g","type":"nominal","bandPosition":-0.125,"axis":null},"y2":{"field":"m2"}}},
{"data":{"name":"E1uax"},"mark":{"type":"text","text":"–","fontSize":12,"fontWeight":"bold","color":"black","align":"right","baseline":"middle","dx":1},"encoding":{"x":{"field":"g","type":"nominal","bandPosition":-0.125,"axis":null}}},
{"data":{"name":"E1uax"},"mark":{"type":"text","fontSize":12,"fontWeight":"bold","color":"black","align":"right","baseline":"middle","dx":-8},"encoding":{"x":{"field":"g","type":"nominal","bandPosition":-0.125,"axis":null},"text":{"field":"label"}}}
]},
{"width":106,"height":37,
"encoding":{"x":{"field":"g","type":"nominal","sort":null,"scale":{"domain":["C12HSL","ATP"],"paddingInner":0.19,"paddingOuter":0.08},"axis":null},
"y":{"field":"m","type":"quantitative","scale":{"domain":[1.58,2.9]},"axis":null}},
"layer":[
{"data":{"name":"E2a"},"mark":{"type":"bar","stroke":"black","strokeWidth":1.5},"encoding":{"xOffset":{"field":"k","type":"nominal","scale":{"domain":["PAV/PAV","AVI/AVI"],"paddingInner":0,"paddingOuter":0}},"y2":{"datum":1.58},
"color":{"field":"k","type":"nominal","scale":{"domain":["PAV/PAV","AVI/AVI"],"range":["#4a93e0","#a81f0d"]},"legend":null}}},
{"data":{"name":"E2a"},"mark":{"type":"rule","color":"black","strokeWidth":1.5},"encoding":{"xOffset":{"field":"k","type":"nominal","scale":{"domain":["PAV/PAV","AVI/AVI"],"paddingInner":0,"paddingOuter":0}},"y":{"field":"lo","type":"quantitative","axis":null},"y2":{"field":"hi"}}},
{"data":{"name":"E2a"},"mark":{"type":"tick","color":"black","thickness":1.5,"size":10},"encoding":{"xOffset":{"field":"k","type":"nominal","scale":{"domain":["PAV/PAV","AVI/AVI"],"paddingInner":0,"paddingOuter":0}},"y":{"field":"lo","type":"quantitative","axis":null}}},
{"data":{"name":"E2a"},"mark":{"type":"tick","color":"black","thickness":1.5,"size":10},"encoding":{"xOffset":{"field":"k","type":"nominal","scale":{"domain":["PAV/PAV","AVI/AVI"],"paddingInner":0,"paddingOuter":0}},"y":{"field":"hi","type":"quantitative","axis":null}}},
{"data":{"name":"E2bu"},"mark":{"type":"line","color":"black","strokeWidth":1.2},"encoding":{"xOffset":{"field":"k","type":"nominal","scale":{"domain":["PAV/PAV","AVI/AVI"],"paddingInner":0,"paddingOuter":0}},"detail":{"field":"b"},"order":{"field":"o"}}},
{"data":{"name":"E2tu"},"mark":{"type":"text","fontSize":13,"color":"black","dx":11},"encoding":{"xOffset":{"field":"k","type":"nominal","scale":{"domain":["PAV/PAV","AVI/AVI"],"paddingInner":0,"paddingOuter":0}},"text":{"field":"label"}}},
{"data":{"name":"E2uln"},"mark":{"type":"rule","color":"black","strokeWidth":2},"encoding":{"x":{"field":"g","type":"nominal","bandPosition":-0.099,"axis":null},"y2":{"field":"m2"}}},
{"data":{"name":"E2uax"},"mark":{"type":"text","text":"–","fontSize":12,"fontWeight":"bold","color":"black","align":"right","baseline":"middle","dx":1},"encoding":{"x":{"field":"g","type":"nominal","bandPosition":-0.099,"axis":null}}},
{"data":{"name":"E2uax"},"mark":{"type":"text","fontSize":12,"fontWeight":"bold","color":"black","align":"right","baseline":"middle","dx":-8},"encoding":{"x":{"field":"g","type":"nominal","bandPosition":-0.099,"axis":null},"text":{"field":"label"}}}
]}
],"spacing":142,"bounds":"flush",
"resolve":{"scale":{"color":"independent","xOffset":"independent","y":"independent","x":"independent"},"legend":{"color":"independent"}}},
{"hconcat":[
{"width":111,"height":88,"data":{"name":"E1"},
"encoding":{"x":{"field":"g","type":"nominal","sort":null,"scale":{"domain":["C4HSL","ATP"],"paddingInner":0.2,"paddingOuter":0.1},"axis":{"title":null,"labelAngle":0,"labelFontWeight":"normal","labelFontSize":13,"tickSize":4,"labelPadding":3}},
"y":{"field":"m","type":"quantitative","scale":{"domain":[1,1.25],"clamp":true},"axis":null}},
"layer":[
{"mark":{"type":"bar","stroke":"black","strokeWidth":1.5},"encoding":{"xOffset":{"field":"k","type":"nominal","scale":{"domain":["PAV/PAV","AVI/AVI"],"paddingInner":0,"paddingOuter":0}},"y2":{"datum":1},
"color":{"field":"k","type":"nominal","scale":{"domain":["PAV/PAV","AVI/AVI"],"range":["#4a93e0","#a81f0d"]},"legend":null}}},
{"data":{"name":"E1h"},"mark":{"type":"rule","color":"black","strokeWidth":1.5},"encoding":{"xOffset":{"field":"k","type":"nominal","scale":{"domain":["PAV/PAV","AVI/AVI"],"paddingInner":0,"paddingOuter":0}},"y":{"field":"lo","type":"quantitative","axis":null},"y2":{"field":"hi"}}},
{"data":{"name":"E1h"},"mark":{"type":"tick","color":"black","thickness":1.5,"size":10},"encoding":{"xOffset":{"field":"k","type":"nominal","scale":{"domain":["PAV/PAV","AVI/AVI"],"paddingInner":0,"paddingOuter":0}},"y":{"field":"lo","type":"quantitative","axis":null}}},
{"data":{"name":"E1h"},"mark":{"type":"tick","color":"black","thickness":1.5,"size":10},"encoding":{"xOffset":{"field":"k","type":"nominal","scale":{"domain":["PAV/PAV","AVI/AVI"],"paddingInner":0,"paddingOuter":0}},"y":{"field":"hi","type":"quantitative","axis":null}}},
{"data":{"name":"E1bl"},"mark":{"type":"line","color":"black","strokeWidth":1.2},"encoding":{"xOffset":{"field":"k","type":"nominal","scale":{"domain":["PAV/PAV","AVI/AVI"],"paddingInner":0,"paddingOuter":0}},"detail":{"field":"b"},"order":{"field":"o"}}},
{"data":{"name":"E1tl"},"mark":{"type":"text","fontSize":16,"fontWeight":"bold","color":"black","dx":11},"encoding":{"xOffset":{"field":"k","type":"nominal","scale":{"domain":["PAV/PAV","AVI/AVI"],"paddingInner":0,"paddingOuter":0}},"text":{"field":"label"}}},
{"data":{"name":"E1lln"},"mark":{"type":"rule","color":"black","strokeWidth":2},"encoding":{"x":{"field":"g","type":"nominal","bandPosition":-0.125,"axis":null},"y2":{"field":"m2"}}},
{"data":{"name":"E1lax"},"mark":{"type":"text","text":"–","fontSize":12,"fontWeight":"bold","color":"black","align":"right","baseline":"middle","dx":1},"encoding":{"x":{"field":"g","type":"nominal","bandPosition":-0.125,"axis":null}}},
{"data":{"name":"E1lax"},"mark":{"type":"text","fontSize":12,"fontWeight":"bold","color":"black","align":"right","baseline":"middle","dx":-8},"encoding":{"x":{"field":"g","type":"nominal","bandPosition":-0.125,"axis":null},"text":{"field":"label"}}},
{"data":{"name":"E1ttl"},"mark":{"type":"text","fontSize":13,"color":"black","angle":270,"align":"center","baseline":"middle"},"encoding":{"x":{"field":"g","type":"nominal","bandPosition":-1.03,"axis":null},"text":{"field":"label"}}}
]},
{"width":106,"height":88,"data":{"name":"E2"},
"encoding":{"x":{"field":"g","type":"nominal","sort":null,"scale":{"domain":["C12HSL","ATP"],"paddingInner":0.19,"paddingOuter":0.08},"axis":{"title":null,"labelAngle":0,"labelFontWeight":"normal","labelFontSize":13,"tickSize":4,"labelPadding":3}},
"y":{"field":"m","type":"quantitative","scale":{"domain":[1,1.46],"clamp":true},"axis":null}},
"layer":[
{"mark":{"type":"bar","stroke":"black","strokeWidth":1.5},"encoding":{"xOffset":{"field":"k","type":"nominal","scale":{"domain":["PAV/PAV","AVI/AVI"],"paddingInner":0,"paddingOuter":0}},"y2":{"datum":1},
"color":{"field":"k","type":"nominal","scale":{"domain":["PAV/PAV","AVI/AVI"],"range":["#4a93e0","#a81f0d"]},"legend":null}}},
{"data":{"name":"E2h"},"mark":{"type":"rule","color":"black","strokeWidth":1.5},"encoding":{"xOffset":{"field":"k","type":"nominal","scale":{"domain":["PAV/PAV","AVI/AVI"],"paddingInner":0,"paddingOuter":0}},"y":{"field":"lo","type":"quantitative","axis":null},"y2":{"field":"hi"}}},
{"data":{"name":"E2h"},"mark":{"type":"tick","color":"black","thickness":1.5,"size":10},"encoding":{"xOffset":{"field":"k","type":"nominal","scale":{"domain":["PAV/PAV","AVI/AVI"],"paddingInner":0,"paddingOuter":0}},"y":{"field":"lo","type":"quantitative","axis":null}}},
{"data":{"name":"E2h"},"mark":{"type":"tick","color":"black","thickness":1.5,"size":10},"encoding":{"xOffset":{"field":"k","type":"nominal","scale":{"domain":["PAV/PAV","AVI/AVI"],"paddingInner":0,"paddingOuter":0}},"y":{"field":"hi","type":"quantitative","axis":null}}},
{"data":{"name":"E2bl"},"mark":{"type":"line","color":"black","strokeWidth":1.2},"encoding":{"xOffset":{"field":"k","type":"nominal","scale":{"domain":["PAV/PAV","AVI/AVI"],"paddingInner":0,"paddingOuter":0}},"detail":{"field":"b"},"order":{"field":"o"}}},
{"data":{"name":"E2tl"},"mark":{"type":"text","fontSize":16,"fontWeight":"bold","color":"black","dx":11},"encoding":{"xOffset":{"field":"k","type":"nominal","scale":{"domain":["PAV/PAV","AVI/AVI"],"paddingInner":0,"paddingOuter":0}},"text":{"field":"label"}}},
{"data":{"name":"E2lln"},"mark":{"type":"rule","color":"black","strokeWidth":2},"encoding":{"x":{"field":"g","type":"nominal","bandPosition":-0.099,"axis":null},"y2":{"field":"m2"}}},
{"data":{"name":"E2lax"},"mark":{"type":"text","text":"–","fontSize":12,"fontWeight":"bold","color":"black","align":"right","baseline":"middle","dx":1},"encoding":{"x":{"field":"g","type":"nominal","bandPosition":-0.099,"axis":null}}},
{"data":{"name":"E2lax"},"mark":{"type":"text","fontSize":12,"fontWeight":"bold","color":"black","align":"right","baseline":"middle","dx":-8},"encoding":{"x":{"field":"g","type":"nominal","bandPosition":-0.099,"axis":null},"text":{"field":"label"}}},
{"data":{"name":"E2ttl"},"mark":{"type":"text","fontSize":13,"color":"black","angle":270,"align":"center","baseline":"middle"},"encoding":{"x":{"field":"g","type":"nominal","bandPosition":-0.97,"axis":null},"text":{"field":"label"}}}
]}
],"spacing":142,"bounds":"flush",
"resolve":{"scale":{"color":"independent","xOffset":"independent","y":"independent","x":"independent"},"legend":{"color":"independent"}}}
]}
]
}
